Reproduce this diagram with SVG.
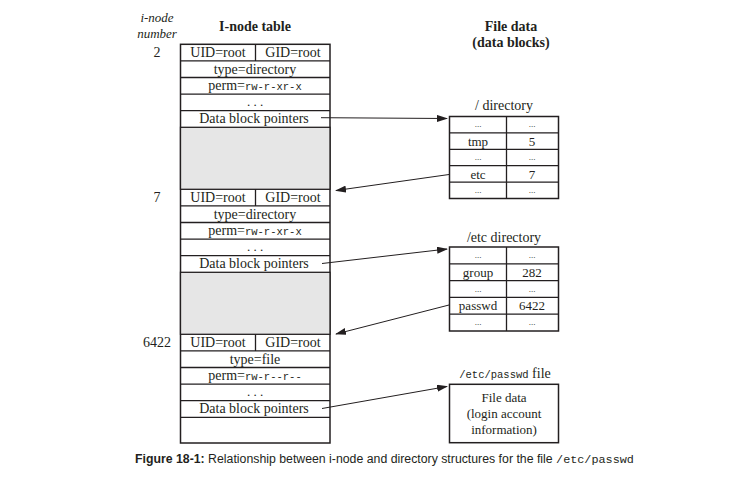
<svg xmlns="http://www.w3.org/2000/svg" width="738" height="486" viewBox="0 0 738 486">
<style>
.s{font-family:"Liberation Serif",serif;font-size:14px;fill:#231f20}
.sm{font-family:"Liberation Serif",serif;font-size:13px;fill:#231f20}
.d{font-family:"Liberation Serif",serif;font-size:9px;fill:#231f20}
.m{font-family:"Liberation Mono",monospace;font-size:10.5px;fill:#231f20}
.b{font-family:"Liberation Serif",serif;font-size:14px;font-weight:bold;fill:#231f20}
.i{font-family:"Liberation Serif",serif;font-size:13px;font-style:italic;fill:#231f20}
.c{text-anchor:middle}
.box{fill:#fff;stroke:#231f20;stroke-width:1.5}
.ln{stroke:#231f20;stroke-width:1.3;fill:none}
.gray{fill:#e6e6e6;stroke:#231f20;stroke-width:1.3}
.arr{stroke:#231f20;stroke-width:1;fill:none;marker-end:url(#ah)}
.cap{font-family:"Liberation Sans",sans-serif;font-size:12.3px;fill:#231f20}
</style>
<defs>
<marker id="ah" markerWidth="11" markerHeight="7" refX="10" refY="3.5" orient="auto" markerUnits="userSpaceOnUse">
<path d="M0,0 L11,3.5 L0,7 z" fill="#231f20"/>
</marker>
</defs>
<rect width="738" height="486" fill="#fff"/>

<g id="headers">
<text class="i c" x="157" y="22">i-node</text>
<text class="i c" x="157" y="38">number</text>
<text class="b c" x="255" y="31">I-node table</text>
<text class="b c" x="511" y="31">File data</text>
<text class="b c" x="511" y="47">(data blocks)</text>
</g>

<g id="inode-table">
<rect class="box" x="180.5" y="44.3" width="149.5" height="398.7"/>
<rect class="gray" x="180.5" y="127.3" width="149.5" height="62"/>
<rect class="gray" x="180.5" y="272.3" width="149.5" height="62"/>
</g>

<g id="inode-2">
<text class="s c" x="157" y="57">2</text>
<path class="ln" d="M180.5,60.9H330M180.5,77.5H330M180.5,94.1H330M180.5,110.7H330M255.5,44.3V60.9"/>
<text class="s c" x="218" y="57">UID=root</text>
<text class="s c" x="293" y="57">GID=root</text>
<text class="s c" x="255" y="73.5">type=directory</text>
<text class="s c" x="255" y="90"><tspan>perm=</tspan><tspan class="m">rw-r-xr-x</tspan></text>
<text class="sm c" x="255" y="106">. . .</text>
<text class="s c" x="254" y="123">Data block pointers</text>
</g>

<g id="inode-7">
<text class="s c" x="157" y="202">7</text>
<path class="ln" d="M180.5,205.9H330M180.5,222.5H330M180.5,239.1H330M180.5,255.7H330M255.5,189.3V205.9"/>
<text class="s c" x="218" y="202">UID=root</text>
<text class="s c" x="293" y="202">GID=root</text>
<text class="s c" x="255" y="218.5">type=directory</text>
<text class="s c" x="255" y="235"><tspan>perm=</tspan><tspan class="m">rw-r-xr-x</tspan></text>
<text class="sm c" x="255" y="251">. . .</text>
<text class="s c" x="254" y="268">Data block pointers</text>
</g>

<g id="inode-6422">
<text class="s c" x="157" y="347">6422</text>
<path class="ln" d="M180.5,350.9H330M180.5,367.5H330M180.5,384.1H330M180.5,400.7H330M180.5,417.3H330M255.5,334.3V350.9"/>
<text class="s c" x="218" y="347">UID=root</text>
<text class="s c" x="293" y="347">GID=root</text>
<text class="s c" x="255" y="363.5">type=file</text>
<text class="s c" x="255" y="380"><tspan>perm=</tspan><tspan class="m">rw-r--r--</tspan></text>
<text class="sm c" x="255" y="396">. . .</text>
<text class="s c" x="254" y="413">Data block pointers</text>
</g>

<g id="root-dir">
<text class="s c" x="504" y="110">/ directory</text>
<rect class="box" x="449.5" y="116.5" width="109" height="82"/>
<path class="ln" d="M449.5,132.9H558.5M449.5,149.3H558.5M449.5,165.7H558.5M449.5,182.1H558.5M506.5,116.5V198.5"/>
<text class="d c" x="478" y="127">...</text><text class="d c" x="532" y="127">...</text>
<text class="sm c" x="478" y="145.5">tmp</text><text class="sm c" x="532" y="145.5">5</text>
<text class="d c" x="478" y="160">...</text><text class="d c" x="532" y="160">...</text>
<text class="sm c" x="478" y="178.5">etc</text><text class="sm c" x="532" y="178.5">7</text>
<text class="d c" x="478" y="193">...</text><text class="d c" x="532" y="193">...</text>
</g>

<g id="etc-dir">
<text class="s c" x="504" y="241.5">/etc directory</text>
<rect class="box" x="449.5" y="247" width="109" height="84"/>
<path class="ln" d="M449.5,263.8H558.5M449.5,280.6H558.5M449.5,297.4H558.5M449.5,314.2H558.5M506.5,247V331"/>
<text class="d c" x="478" y="258">...</text><text class="d c" x="532" y="258">...</text>
<text class="sm c" x="478" y="276.5">group</text><text class="sm c" x="532" y="276.5">282</text>
<text class="d c" x="478" y="291.5">...</text><text class="d c" x="532" y="291.5">...</text>
<text class="sm c" x="478" y="310">passwd</text><text class="sm c" x="532" y="310">6422</text>
<text class="d c" x="478" y="325">...</text><text class="d c" x="532" y="325">...</text>
</g>

<g id="passwd-file">
<text class="s c" x="505" y="378"><tspan class="m">/etc/passwd</tspan><tspan> file</tspan></text>
<rect class="box" x="449.5" y="384.3" width="109" height="58.4"/>
<text class="sm c" x="504" y="402">File data</text>
<text class="sm c" x="504" y="418">(login account</text>
<text class="sm c" x="504" y="434">information)</text>
</g>

<g id="connectors">
<path class="arr" d="M321,117.7L447,118.5"/>
<path class="arr" d="M449,174.5L336,190.5"/>
<path class="arr" d="M322,263.5L447,249"/>
<path class="arr" d="M449,305L336,334"/>
<path class="arr" d="M322,408.5L447,386.5"/>
</g>

<g id="caption">
<text class="cap" x="135" y="463"><tspan font-weight="bold">Figure 18-1:</tspan><tspan> Relationship between i-node and directory structures for the file </tspan><tspan font-family="Liberation Mono, monospace" font-size="11.8">/etc/passwd</tspan></text>
</g>
</svg>
